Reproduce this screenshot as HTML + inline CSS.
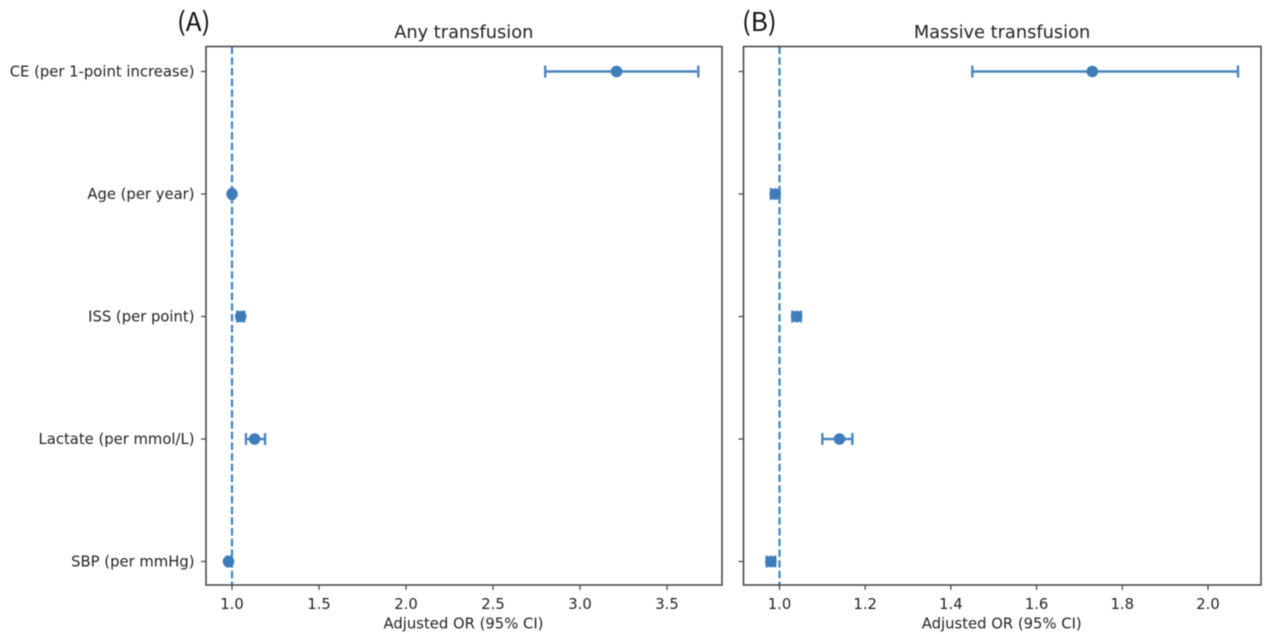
<!DOCTYPE html>
<html>
<head>
<meta charset="utf-8">
<title>Adjusted OR forest plots</title>
<style>
html,body{margin:0;padding:0;background:#fff;width:1280px;height:634px;overflow:hidden}
svg{display:block;filter:blur(0.45px)}
text{font-family:"DejaVu Sans","Liberation Sans",sans-serif;fill:#222}
</style>
</head>
<body>
<svg id="chart" xmlns="http://www.w3.org/2000/svg" width="1280" height="634" viewBox="0 0 1280 634"></svg>
<script>
const categories = ["CE (per 1-point increase)", "Age (per year)", "ISS (per point)", "Lactate (per mmol/L)", "SBP (per mmHg)"];
const anyOR = [3.21, 1.00, 1.05, 1.13, 0.98];
const anyLow = [2.80, 0.99, 1.03, 1.08, 0.97];
const anyHigh = [3.68, 1.01, 1.07, 1.19, 0.99];
const massiveOR = [1.73, 0.99, 1.04, 1.14, 0.98];
const massiveLow = [1.45, 0.98, 1.03, 1.10, 0.97];
const massiveHigh = [2.07, 1.00, 1.05, 1.17, 0.99];
const anyTicks = [1.0, 1.5, 2.0, 2.5, 3.0, 3.5];
const massiveTicks = [1.0, 1.2, 1.4, 1.6, 1.8, 2.0];
const referenceOR = 1.0;

const NS = "http://www.w3.org/2000/svg";
const svg = document.getElementById("chart");
const BLUE = "#3f7cba";
const AXIS = "#404040";
const top_ = 46.5, bottom = 585;
const yFor = i => 71.5 + i * 122.5;

function mk(tag, attrs, parent, text) {
  const el = document.createElementNS(NS, tag);
  for (const k in attrs) el.setAttribute(k, attrs[k]);
  if (text !== undefined) el.textContent = text;
  (parent || svg).appendChild(el);
  return el;
}

function panel(cfg) {
  const x = v => cfg.x0 + (v - 1) * cfg.scale;
  const g = mk("g", {});
  
  

  const refLine = mk("line", {x1: x(referenceOR), x2: x(referenceOR), y1: top_, y2: bottom, stroke: "#3d85c6", "stroke-width": 2.2, "stroke-dasharray": "7.5 3.2"}, g);
  
  

  categories.forEach((c, i) => {
    const y = yFor(i);
    const tick = mk("line", {x1: cfg.left - 5, x2: cfg.left, y1: y, y2: y, stroke: AXIS, "stroke-width": 1.2}, g);
    
    
    if (cfg.showLabels) {
      const lab = mk("text", {x: cfg.left - 11.5, y: y + 5, "text-anchor": "end", "font-size": 14.8}, g, c);
      
      
    }
    const err = mk("g", {stroke: "#4a86c0", "stroke-width": 2.4, fill: "none"}, g);
    
    
    mk("line", {x1: x(cfg.low[i]), x2: x(cfg.high[i]), y1: y, y2: y}, err);
    mk("line", {x1: x(cfg.low[i]), x2: x(cfg.low[i]), y1: y - 6, y2: y + 6}, err);
    mk("line", {x1: x(cfg.high[i]), x2: x(cfg.high[i]), y1: y - 6, y2: y + 6}, err);
    const pt = mk("circle", {cx: x(cfg.or[i]), cy: y, r: 5.8, fill: BLUE}, g);
    
    
  });

  const frame = mk("rect", {x: cfg.left, y: top_, width: cfg.right - cfg.left, height: bottom - top_, fill: "none", stroke: AXIS, "stroke-width": 1.5}, g);
  
  

  cfg.ticks.forEach(t => {
    const tick = mk("line", {x1: x(t), x2: x(t), y1: bottom, y2: bottom + 5, stroke: AXIS, "stroke-width": 1.2}, g);
    
    
    const lab = mk("text", {x: x(t), y: 609, "text-anchor": "middle", "font-size": 14.8}, g, t.toFixed(1));
    
    
  });

  const xTitle = mk("text", {x: (cfg.left + cfg.right) / 2 - 0.5, y: 628.5, "text-anchor": "middle", "font-size": 14.8}, g, "Adjusted OR (95% CI)");
  
  

  const title = mk("text", {x: (cfg.left + cfg.right) / 2 - 0.2, y: 38, "text-anchor": "middle", "font-size": 17.8}, g, cfg.title);
  
  

  const tag = mk("text", {x: cfg.tagX, y: 31, "font-size": 26, style: "font-family:'Noto Sans CJK KR','Liberation Sans',sans-serif;fill:#111"}, g, cfg.tag);
  
  
}

panel({key: "any-transfusion", title: "Any transfusion", tag: "(A)", tagX: 177, left: 206, right: 722, x0: 232, scale: 174,
  or: anyOR, low: anyLow, high: anyHigh, ticks: anyTicks, showLabels: true});
panel({key: "massive-transfusion", title: "Massive transfusion", tag: "(B)", tagX: 742, left: 743.5, right: 1261, x0: 779.5, scale: 428.5,
  or: massiveOR, low: massiveLow, high: massiveHigh, ticks: massiveTicks, showLabels: false});
</script>
</body>
</html>
